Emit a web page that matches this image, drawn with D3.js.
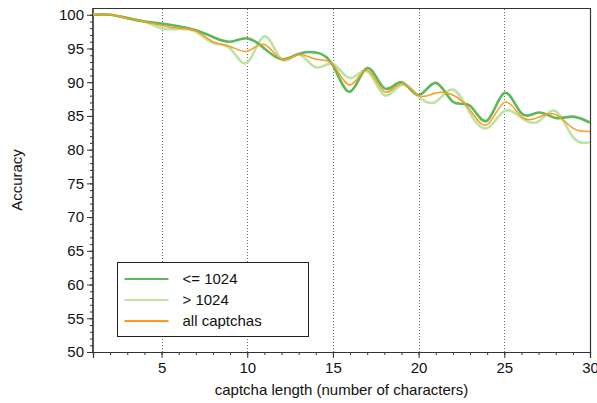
<!DOCTYPE html>
<html lang="en">
<head>
<meta charset="utf-8" />
<title>captcha accuracy</title>
<script src="https://cdn.jsdelivr.net/npm/d3@7"></script>
<style>
  body { margin: 0; background: #fff; }
  text { font-family: "Liberation Sans", Arial, sans-serif; fill: #111; }
</style>
</head>
<body>
<script>
/*************************** Data ***************************/

var lengths = d3.range(1, 31);
var short_acc = [100, 100, 99.5, 99.0, 98.7, 98.3, 97.7, 96.7, 96.0, 96.5,
                 95.0, 93.4, 94.2, 94.4, 92.5, 88.6, 92.1, 89.1, 90.0, 88.1,
                 89.9, 87.1, 86.5, 84.3, 88.4, 85.4, 85.5, 84.7, 84.9, 84.0];
var long_acc  = [100, 100, 99.5, 99.0, 98.0, 97.9, 97.5, 95.8, 95.0, 92.9,
                 96.8, 93.4, 94.1, 92.2, 92.7, 90.6, 91.6, 88.1, 89.6, 87.9,
                 87.1, 88.9, 85.4, 83.2, 85.7, 84.7, 84.2, 85.7, 81.9, 81.1];
var all_acc   = [100, 100, 99.5, 99.0, 98.4, 98.0, 97.6, 96.0, 95.3, 94.6,
                 95.6, 93.4, 94.1, 93.4, 92.6, 89.6, 91.8, 88.6, 89.8, 88.0,
                 88.4, 88.1, 85.9, 83.7, 87.0, 84.9, 84.8, 85.2, 83.2, 82.7];
var series_names = ["<= 1024", "> 1024", "all captchas"];
var x_ticks = [5, 10, 15, 20, 25, 30];
var y_ticks = d3.range(50, 101, 5);

/*************************** Canvas ***************************/

var width = 597, height = 403;
var margin = { left: 93, right: 7, top: 8, bottom: 51 };
var font_size = "15px";

var svg = d3.select("body").append("svg")
  .attr("width", width).attr("height", height);

var x = d3.scaleLinear().domain([1, 30]).range([margin.left, width - margin.right]);
var y = d3.scaleLinear().domain([50, 101]).range([height - margin.bottom, margin.top]);

// dotted verticals
svg.append("g").selectAll("line").data(x_ticks.slice(0, 5)).join("line")
  .attr("x1", d => Math.round(x(d)) + 0.5).attr("x2", d => Math.round(x(d)) + 0.5)
  .attr("y1", y(50)).attr("y2", y(101))
  .attr("stroke", "#666").attr("stroke-width", 1).attr("stroke-dasharray", "1,2");

// frame top + right
svg.append("path")
  .attr("d", "M" + x(1) + "," + (y(101) + 0.5) + "H" + (x(30) + 0.5) + "V" + y(50))
  .attr("fill", "none").attr("stroke", "#333").attr("stroke-width", 1.2);

/*************************** Axes ***************************/

var x_minor = svg.append("g").attr("transform", "translate(0," + y(50) + ")")
  .call(d3.axisBottom(x).tickValues(d3.range(1, 31)).tickSize(3).tickFormat(""));
var x_axis = svg.append("g").attr("transform", "translate(0," + y(50) + ")")
  .call(d3.axisBottom(x).tickValues(x_ticks).tickSize(6).tickPadding(4));

var y_minor = svg.append("g").attr("transform", "translate(" + x(1) + ",0)")
  .call(d3.axisLeft(y).tickValues(d3.range(50, 101)).tickSize(3).tickFormat(""));
var y_axis = svg.append("g").attr("transform", "translate(" + x(1) + ",0)")
  .call(d3.axisLeft(y).tickValues(y_ticks).tickSize(6).tickPadding(3));

[x_minor, x_axis, y_minor, y_axis].forEach(function (g) {
  g.select(".domain").attr("stroke", "#333").attr("stroke-width", 1.2);
  g.selectAll(".tick line").attr("stroke", "#333");
  g.selectAll("text").style("font-size", font_size).attr("fill", "#111")
    .style("font-family", "'Liberation Sans', Arial, sans-serif");
});
y_minor.select(".domain").attr("d", "M0," + y(50) + "V" + y(101));
y_axis.select(".domain").attr("d", "M0," + y(50) + "V" + y(101));

svg.append("text")
  .attr("x", (x(1) + x(30)) / 2).attr("y", 395)
  .attr("text-anchor", "middle").style("font-size", font_size)
  .text("captcha length (number of characters)");

svg.append("text")
  .attr("transform", "translate(22," + y(75.5) + ") rotate(-90)")
  .attr("text-anchor", "middle").style("font-size", font_size)
  .text("Accuracy");

/*************************** Lines ***************************/

var line_gen = d3.line()
  .x((d, i) => x(lengths[i]))
  .y(d => y(d))
  .curve(d3.curveNatural);

var series = [
  { name: series_names[1], values: long_acc, color: "#bce3a4", w: 2.6 },
  { name: series_names[0], values: short_acc, color: "#5cb85a", w: 2.6 },
  { name: series_names[2], values: all_acc, color: "#fe9a1c", w: 1.5 }
];

svg.append("g").selectAll("path").data(series).join("path")
  .attr("d", d => line_gen(d.values))
  .attr("fill", "none")
  .attr("stroke", d => d.color)
  .attr("stroke-width", d => d.w);

/*************************** Legend ***************************/

var legend = svg.append("g").attr("transform", "translate(117.5,262.5)");
legend.append("rect").attr("width", 191).attr("height", 74)
  .attr("fill", "#fff").attr("stroke", "#222").attr("stroke-width", 1);

var legend_items = [series[1], series[0], series[2]];
var rows = legend.selectAll("g.item").data(legend_items).join("g")
  .attr("class", "item")
  .attr("transform", (d, i) => "translate(0," + (16.5 + i * 21) + ")");
rows.append("line").attr("x1", 7).attr("x2", 51)
  .attr("stroke", d => d.color).attr("stroke-width", 2.2);
rows.append("text").attr("x", 65).attr("y", 5)
  .style("font-size", font_size).text(d => d.name);
</script>
</body>
</html>
